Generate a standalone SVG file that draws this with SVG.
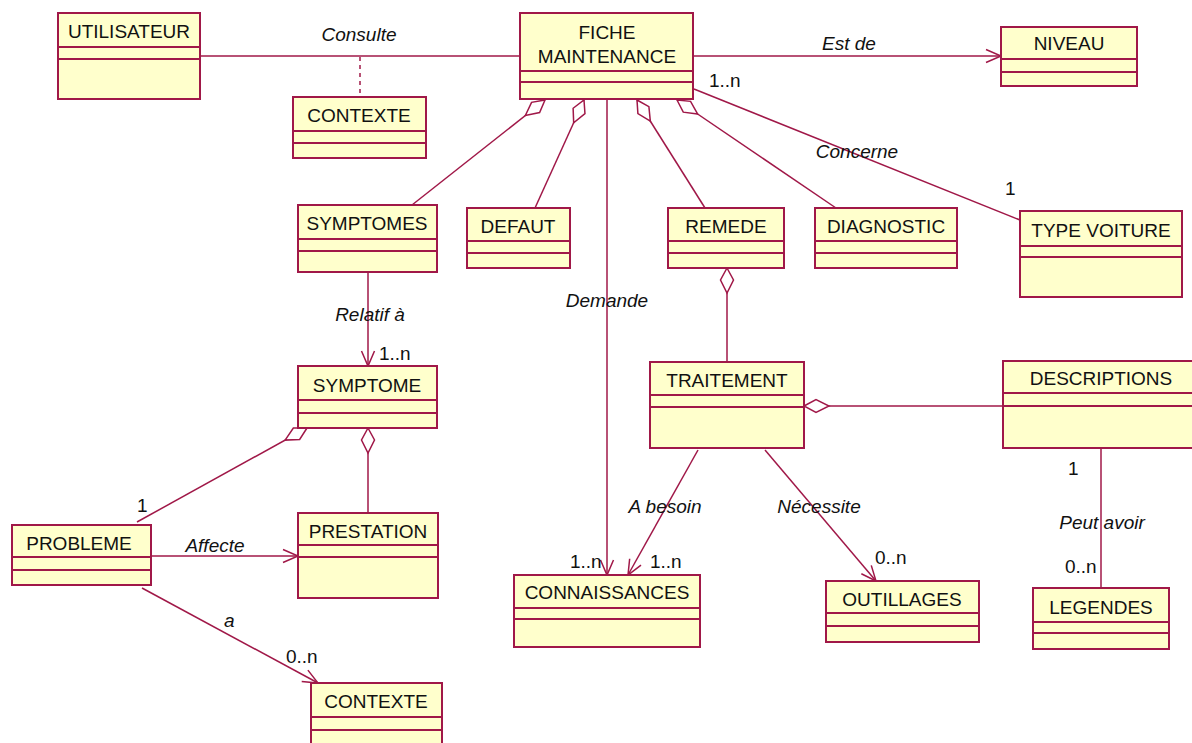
<svg xmlns="http://www.w3.org/2000/svg" width="1192" height="743" viewBox="0 0 1192 743">
<style>
.box{fill:#FFFFCC;stroke:#A01848;stroke-width:2}
.div{stroke:#A01848;stroke-width:2}
.ln{stroke:#A01848;stroke-width:1.5;fill:none}
.name{font-family:"Liberation Sans",Arial,sans-serif;font-size:19px;fill:#111;text-anchor:middle}
.lbl{font-family:"Liberation Sans",Arial,sans-serif;font-size:19px;font-style:italic;fill:#111}
.mul{font-family:"Liberation Sans",Arial,sans-serif;font-size:19px;fill:#111}
.c{text-anchor:middle}
</style>
<defs>
<marker id="agg" markerUnits="userSpaceOnUse" markerWidth="30" markerHeight="20" viewBox="-2 -10 30 20" refX="0" refY="0" orient="auto" overflow="visible">
<path d="M0,0 L12,-6.5 L25,0 L12,6.5 Z" fill="#FFFFFF" stroke="#A01848" stroke-width="1.5"/>
</marker>
<marker id="arr" markerUnits="userSpaceOnUse" markerWidth="20" markerHeight="20" viewBox="-18 -10 20 20" refX="0" refY="0" orient="auto" overflow="visible">
<path d="M-15,-6.5 L0,0 L-15,6.5" fill="none" stroke="#A01848" stroke-width="1.5"/>
</marker>
</defs>
<rect width="1192" height="743" fill="#FFFFFF"/>
<g id="connectors">
<line class="ln" x1="200" y1="56" x2="520" y2="56"/>
<line class="ln" x1="360" y1="57" x2="360" y2="97" stroke-dasharray="4,4"/>
<line class="ln" x1="693" y1="56" x2="1001" y2="56" marker-end="url(#arr)"/>
<line class="ln" x1="694" y1="89" x2="1020" y2="220"/>
<line class="ln" x1="545" y1="100" x2="412" y2="205" marker-start="url(#agg)"/>
<line class="ln" x1="584" y1="100" x2="535" y2="208" marker-start="url(#agg)"/>
<line class="ln" x1="637" y1="100" x2="705" y2="208" marker-start="url(#agg)"/>
<line class="ln" x1="677" y1="100" x2="836" y2="208" marker-start="url(#agg)"/>
<line class="ln" x1="607" y1="100" x2="607" y2="575" marker-end="url(#arr)"/>
<line class="ln" x1="727" y1="268" x2="727" y2="362" marker-start="url(#agg)"/>
<line class="ln" x1="804" y1="406" x2="1003" y2="406" marker-start="url(#agg)"/>
<line class="ln" x1="368" y1="272" x2="368" y2="366" marker-end="url(#arr)"/>
<line class="ln" x1="307" y1="428" x2="137" y2="522" marker-start="url(#agg)"/>
<line class="ln" x1="368" y1="428" x2="368" y2="513" marker-start="url(#agg)"/>
<line class="ln" x1="151" y1="556" x2="298" y2="556" marker-end="url(#arr)"/>
<line class="ln" x1="142" y1="588" x2="318" y2="683" marker-end="url(#arr)"/>
<line class="ln" x1="698" y1="450" x2="628" y2="575" marker-end="url(#arr)"/>
<line class="ln" x1="765" y1="450" x2="876" y2="581" marker-end="url(#arr)"/>
<line class="ln" x1="1101" y1="448" x2="1101" y2="588"/>
<text class="lbl c" x="359" y="41">Consulte</text>
<text class="lbl c" x="849" y="50">Est de</text>
<text class="mul" x="709" y="87">1..n</text>
<text class="lbl c" x="857" y="158">Concerne</text>
<text class="mul" x="1005" y="195">1</text>
<text class="lbl c" x="607" y="307">Demande</text>
<text class="lbl c" x="370" y="321">Relatif à</text>
<text class="mul" x="379" y="360">1..n</text>
<text class="mul" x="137" y="512">1</text>
<text class="lbl c" x="215" y="552">Affecte</text>
<text class="lbl" x="224" y="627">a</text>
<text class="mul" x="286" y="663">0..n</text>
<text class="lbl c" x="665" y="513">A besoin</text>
<text class="mul" x="570" y="568">1..n</text>
<text class="mul" x="650" y="568">1..n</text>
<text class="lbl c" x="819" y="513">Nécessite</text>
<text class="mul" x="875" y="564">0..n</text>
<text class="mul" x="1068" y="475">1</text>
<text class="lbl c" x="1102" y="529">Peut avoir</text>
<text class="mul" x="1065" y="573">0..n</text>
</g>
<g id="utilisateur"><rect class="box" x="58" y="13" width="142" height="86"/><line class="div" x1="58" y1="47" x2="200" y2="47"/><line class="div" x1="58" y1="59" x2="200" y2="59"/><text class="name" x="129" y="38">UTILISATEUR</text></g>
<g id="fiche-maintenance"><rect class="box" x="520" y="13" width="173" height="86"/><line class="div" x1="520" y1="71" x2="693" y2="71"/><line class="div" x1="520" y1="82" x2="693" y2="82"/><text class="name" x="607" y="39">FICHE</text><text class="name" x="607" y="63">MAINTENANCE</text></g>
<g id="niveau"><rect class="box" x="1001" y="27" width="136" height="59"/><line class="div" x1="1001" y1="59" x2="1137" y2="59"/><line class="div" x1="1001" y1="72" x2="1137" y2="72"/><text class="name" x="1069" y="50">NIVEAU</text></g>
<g id="contexte-haut"><rect class="box" x="293" y="97" width="133" height="61"/><line class="div" x1="293" y1="131" x2="426" y2="131"/><line class="div" x1="293" y1="143" x2="426" y2="143"/><text class="name" x="359" y="122">CONTEXTE</text></g>
<g id="symptomes"><rect class="box" x="298" y="205" width="139" height="67"/><line class="div" x1="298" y1="239" x2="437" y2="239"/><line class="div" x1="298" y1="251" x2="437" y2="251"/><text class="name" x="367" y="230">SYMPTOMES</text></g>
<g id="defaut"><rect class="box" x="467" y="208" width="103" height="60"/><line class="div" x1="467" y1="241" x2="570" y2="241"/><line class="div" x1="467" y1="253" x2="570" y2="253"/><text class="name" x="518" y="233">DEFAUT</text></g>
<g id="remede"><rect class="box" x="668" y="208" width="116" height="60"/><line class="div" x1="668" y1="241" x2="784" y2="241"/><line class="div" x1="668" y1="253" x2="784" y2="253"/><text class="name" x="726" y="233">REMEDE</text></g>
<g id="diagnostic"><rect class="box" x="815" y="208" width="142" height="60"/><line class="div" x1="815" y1="241" x2="957" y2="241"/><line class="div" x1="815" y1="253" x2="957" y2="253"/><text class="name" x="886" y="233">DIAGNOSTIC</text></g>
<g id="type-voiture"><rect class="box" x="1020" y="211" width="162" height="86"/><line class="div" x1="1020" y1="246" x2="1182" y2="246"/><line class="div" x1="1020" y1="257" x2="1182" y2="257"/><text class="name" x="1101" y="237">TYPE VOITURE</text></g>
<g id="symptome"><rect class="box" x="298" y="366" width="139" height="62"/><line class="div" x1="298" y1="400" x2="437" y2="400"/><line class="div" x1="298" y1="413" x2="437" y2="413"/><text class="name" x="367" y="392">SYMPTOME</text></g>
<g id="traitement"><rect class="box" x="650" y="362" width="154" height="86"/><line class="div" x1="650" y1="395" x2="804" y2="395"/><line class="div" x1="650" y1="407" x2="804" y2="407"/><text class="name" x="727" y="387">TRAITEMENT</text></g>
<g id="descriptions"><rect class="box" x="1003" y="361" width="196" height="87"/><line class="div" x1="1003" y1="393" x2="1199" y2="393"/><line class="div" x1="1003" y1="406" x2="1199" y2="406"/><text class="name" x="1101" y="385">DESCRIPTIONS</text></g>
<g id="probleme"><rect class="box" x="12" y="525" width="139" height="60"/><line class="div" x1="12" y1="557" x2="151" y2="557"/><line class="div" x1="12" y1="570" x2="151" y2="570"/><text class="name" x="79" y="550">PROBLEME</text></g>
<g id="prestation"><rect class="box" x="298" y="513" width="140" height="85"/><line class="div" x1="298" y1="545" x2="438" y2="545"/><line class="div" x1="298" y1="557" x2="438" y2="557"/><text class="name" x="368" y="538">PRESTATION</text></g>
<g id="connaissances"><rect class="box" x="514" y="575" width="186" height="72"/><line class="div" x1="514" y1="608" x2="700" y2="608"/><line class="div" x1="514" y1="619" x2="700" y2="619"/><text class="name" x="607" y="599">CONNAISSANCES</text></g>
<g id="outillages"><rect class="box" x="826" y="581" width="153" height="61"/><line class="div" x1="826" y1="613" x2="979" y2="613"/><line class="div" x1="826" y1="626" x2="979" y2="626"/><text class="name" x="902" y="606">OUTILLAGES</text></g>
<g id="legendes"><rect class="box" x="1033" y="588" width="136" height="61"/><line class="div" x1="1033" y1="622" x2="1169" y2="622"/><line class="div" x1="1033" y1="633" x2="1169" y2="633"/><text class="name" x="1101" y="614">LEGENDES</text></g>
<g id="contexte-bas"><rect class="box" x="311" y="683" width="131" height="70"/><line class="div" x1="311" y1="717" x2="442" y2="717"/><line class="div" x1="311" y1="730" x2="442" y2="730"/><text class="name" x="376" y="708">CONTEXTE</text></g>
</svg>
